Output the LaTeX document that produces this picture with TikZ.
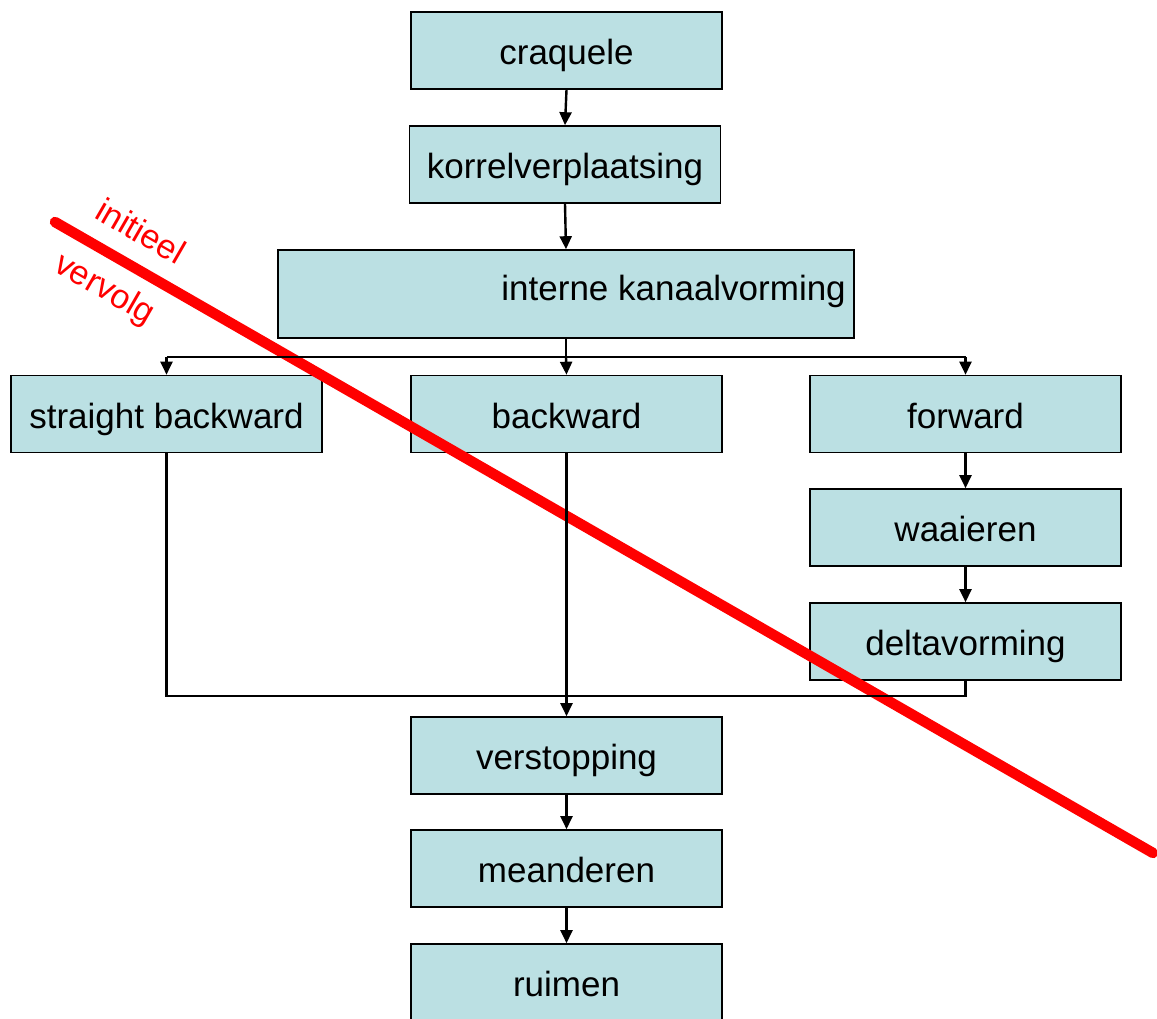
\documentclass[tikz,border=0pt]{standalone}
\usepackage{fontspec}
\setmainfont{Liberation Sans}
\usetikzlibrary{arrows.meta}
\definecolor{boxfill}{HTML}{BBE0E3}
\begin{document}
\begin{tikzpicture}[x=1pt,y=-1pt,
  box/.style={draw=black, line width=1.6pt, fill=boxfill, minimum width=311pt, minimum height=77pt, inner sep=0pt, text height=28pt, text depth=0pt, font=\fontsize{35}{42}\selectfont},
  conn/.style={draw=black, line width=2.4pt},
  arr/.style={conn, -{Triangle[length=13pt,width=12pt]}},
  redtext/.style={text=red, font=\fontsize{34}{40}\selectfont, rotate=-30, inner sep=0pt}]
\useasboundingbox (0,0) rectangle (1157,1019);
% boxes
\node[box] (cq) at (566.5,50.5) {craquele};
\node[box] (kv) at (565,164.5) {korrelverplaatsing};
\node[box, minimum width=576pt, minimum height=88pt] (ik) at (566,294) {};
\node[anchor=east, inner sep=0pt, text height=28pt, text depth=0pt, font=\fontsize{35}{42}\selectfont] (iklabel) at (846,287) {interne kanaalvorming};
\node[box] (sb) at (166.5,414) {straight backward};
\node[box] (bw) at (566.5,414) {backward};
\node[box] (fw) at (965.5,414) {forward};
\node[box] (wa) at (965.5,527.5) {waaieren};
\node[box] (dv) at (965.5,641.5) {deltavorming};
\node[box] (vs) at (566.5,755.5) {verstopping};
\node[box] (me) at (566.5,868.5) {meanderen};
\node[box] (ru) at (566.5,982.5) {ruimen};
% red line
\coordinate (r1) at (55,222);
\coordinate (r2) at (1153,853);
\draw[red, line width=10.5pt, line cap=round] (r1) -- (r2);
\node[redtext] (ini) at (141,231) {initieel};
\node[redtext] (ver) at (104,290) {vervolg};
% connectors
\coordinate (split) at (566,357);
\coordinate (merge) at (566,696);
\draw[arr] (cq.south) -- (kv.north);
\draw[arr] (kv.south) -- (ik.north);
\draw[conn] (ik.south) -- (split);
\draw[conn] (sb.north |- split) -- (fw.north |- split);
\draw[arr] (sb.north |- split) -- (sb.north);
\draw[arr] (split) -- (bw.north);
\draw[arr] (fw.north |- split) -- (fw.north);
\draw[arr] (fw.south) -- (wa.north);
\draw[arr] (wa.south) -- (dv.north);
\draw[conn] (sb.south) |- (merge);
\draw[conn] (dv.south) |- (merge);
\draw[arr] (bw.south) -- (vs.north);
\draw[arr] (vs.south) -- (me.north);
\draw[arr] (me.south) -- (ru.north);
\end{tikzpicture}
\end{document}
